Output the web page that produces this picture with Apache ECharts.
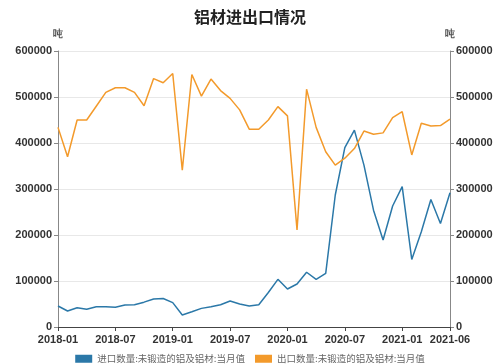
<!DOCTYPE html>
<html><head><meta charset="utf-8">
<script src="https://cdn.jsdelivr.net/npm/echarts@6/dist/echarts.min.js"></script>
<style>html,body{margin:0;padding:0;background:#fff}#c{width:500px;height:364px}</style>
</head><body><div id="c"></div>
<script>
const months = [];
for (let y = 2018; y <= 2021; y++) for (let m = 1; m <= 12; m++) { if (y === 2021 && m > 6) break; months.push(y + '-' + (m < 10 ? '0' + m : m)); }
const seriesNames = ['进口数量:未锻造的铝及铝材:当月值', '出口数量:未锻造的铝及铝材:当月值'];
const importVals = [45600, 34800, 42000, 38500, 44000, 44000, 43000, 48000, 48500, 54000, 61000, 62000,
  53000, 26000, 33000, 40500, 44000, 48500, 56500, 50000, 45600, 48500, 75000, 103600,
  82600, 93500, 119000, 103600, 116700, 287000, 390000, 428000, 352000, 254000, 189000, 263000,
  305000, 147000, 207000, 277000, 225000, 292000];
const exportVals = [434000, 370000, 450000, 450000, 480000, 510000, 520000, 520000, 510000, 481000, 540000, 531000,
  551000, 341000, 549000, 502000, 539000, 514000, 497000, 472000, 430000, 430000, 450000, 479000,
  459000, 211000, 517000, 434000, 381000, 352000, 367000, 388000, 426000, 419000, 422000, 455000,
  468000, 374000, 443000, 437000, 438000, 452000];
const yTicks = [0, 100000, 200000, 300000, 400000, 500000, 600000];
const unit = '吨';
const title = '铝材进出口情况';

const chart = echarts.init(document.getElementById('c'));
const labelFn = (i) => i % 6 === 0 || i === months.length - 1;
const axisLabelStyle = { color: '#333', fontSize: 11, fontWeight: 'bold', fontFamily: 'Liberation Sans, Arial, sans-serif' };
const yAxisCommon = {
  type: 'value', min: yTicks[0], max: yTicks[yTicks.length - 1], interval: 100000,
  name: unit, nameGap: 12, nameTextStyle: { color: '#555', fontSize: 10, fontWeight: 'bold' },
  axisLine: { show: true, lineStyle: { color: '#888' } },
  axisTick: { show: true, length: 4, lineStyle: { color: '#888' } },
  axisLabel: Object.assign({ margin: 6, formatter: (v) => String(v) }, axisLabelStyle)
};
chart.setOption({
  animation: false,
  color: ['#2b78a8', '#f39a2b'],
  title: { text: title, left: 'center', top: 4, textStyle: { fontSize: 16, fontWeight: 'bold', color: '#222', fontFamily: 'Noto Sans CJK SC' } },
  grid: { left: 58, right: 50, top: 51, bottom: 37 },
  legend: {
    top: 349, left: 'center', itemWidth: 17, itemHeight: 8, itemGap: 10,
    icon: 'rect',
    textStyle: { fontSize: 9.5, color: '#666', fontFamily: 'Noto Sans CJK SC' },
    data: seriesNames
  },
  xAxis: {
    type: 'category', data: months, boundaryGap: false,
    axisLine: { lineStyle: { color: '#444' } },
    axisTick: { show: true, interval: labelFn, length: 4, lineStyle: { color: '#444' } },
    axisLabel: Object.assign({ interval: labelFn, margin: 7 }, axisLabelStyle)
  },
  yAxis: [
    Object.assign({}, yAxisCommon, { position: 'left', splitLine: { show: true, lineStyle: { color: '#e8e8e8' } } }),
    Object.assign({}, yAxisCommon, { position: 'right', splitLine: { show: false } })
  ],
  series: [
    { name: seriesNames[0], type: 'line', data: importVals, yAxisIndex: 0, showSymbol: false, lineStyle: { width: 1.5 } },
    { name: seriesNames[1], type: 'line', data: exportVals, yAxisIndex: 1, showSymbol: false, lineStyle: { width: 1.5 } }
  ]
});
</script></body></html>
